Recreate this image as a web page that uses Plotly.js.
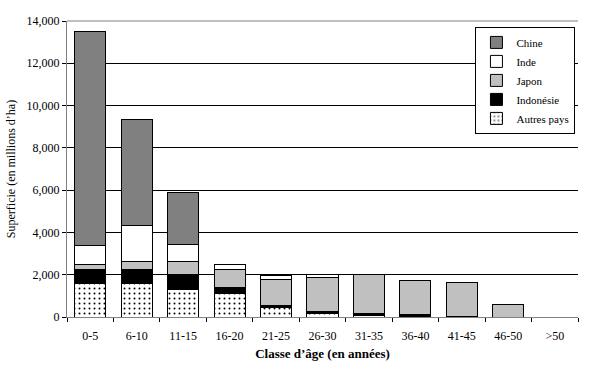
<!DOCTYPE html>
<html><head><meta charset="utf-8">
<script src="https://cdn.plot.ly/plotly-3.0.1.min.js"></script>
<style>html,body{margin:0;padding:0;background:#fff}</style>
</head><body>
<div id="chart" style="width:604px;height:371px"></div>
<script>
const categories = ['0-5','6-10','11-15','16-20','21-25','26-30','31-35','36-40','41-45','46-50','>50'];
const autres    = [1580, 1580, 1290, 1100, 440, 160, 90, 20, 10, 0, 0];
const indonesie = [690, 690, 740, 300, 110, 110, 80, 80, 10, 0, 0];
const japon     = [220, 360, 600, 870, 1230, 1600, 1830, 1640, 1620, 600, 0];
const inde      = [900, 1700, 800, 220, 170, 140, 0, 0, 0, 0, 0];
const chine     = [10100, 5010, 2460, 0, 0, 0, 0, 0, 0, 0, 0];

const FAM = 'Liberation Serif';
const font = {family: FAM, size: 12, color: '#000'};
const line = {color: '#000', width: 1};
function tr(name, y, color, pattern) {
  const m = {color: color, line: line};
  if (pattern) m.pattern = pattern;
  return {type: 'bar', name: name, x: categories, y: y, marker: m};
}
const data = [
  tr('Autres pays', autres, '#ffffff', {shape: '.', fgcolor: '#000', bgcolor: '#fff', size: 5, solidity: 0.12}),
  tr('Indonésie', indonesie, '#000000'),
  tr('Japon', japon, '#c0c0c0'),
  tr('Inde', inde, '#ffffff'),
  tr('Chine', chine, '#808080')
];
const layout = {
  width: 604, height: 371,
  margin: {l: 67, r: 26, t: 21, b: 54},
  barmode: 'stack', bargap: 0.33,
  paper_bgcolor: '#fff', plot_bgcolor: '#fff',
  font: font,
  showlegend: true,
  legend: {x: 0.995, y: 0.98, xanchor: 'right', yanchor: 'top', traceorder: 'reversed',
           bordercolor: '#000', borderwidth: 1, bgcolor: '#fff', font: {family: FAM, size: 11, color: '#000'},
           itemwidth: 30, tracegroupgap: 0},
  xaxis: {
    type: 'category', tickson: 'boundaries', ticks: 'outside', ticklen: 4, tickcolor: '#000',
    ticklabelstandoff: 8,
    showline: true, linecolor: '#808080', linewidth: 1, showgrid: false,
    tickfont: font,
    title: {text: '<b>Classe d\u2019âge (en années)</b>', font: {family: FAM, size: 13, color: '#000'}, standoff: 6}
  },
  yaxis: {
    range: [0, 14000], dtick: 2000, tickformat: ',', ticks: 'outside', ticklen: 4, tickcolor: '#000',
    showline: true, linecolor: '#808080', linewidth: 1, mirror: false,
    showgrid: true, gridcolor: '#000', gridwidth: 1, zeroline: false,
    tickfont: font,
    title: {text: 'Superficie (en millions d\u2019ha)', font: {family: FAM, size: 12, color: '#000'}, standoff: 8}
  },
  shapes: [{type: 'line', xref: 'paper', yref: 'paper', x0: 0, x1: 1, y0: 1, y1: 1, line: {color: '#808080', width: 1}}]
};
Plotly.newPlot('chart', data, layout, {displayModeBar: false, staticPlot: true});
</script>
</body></html>
